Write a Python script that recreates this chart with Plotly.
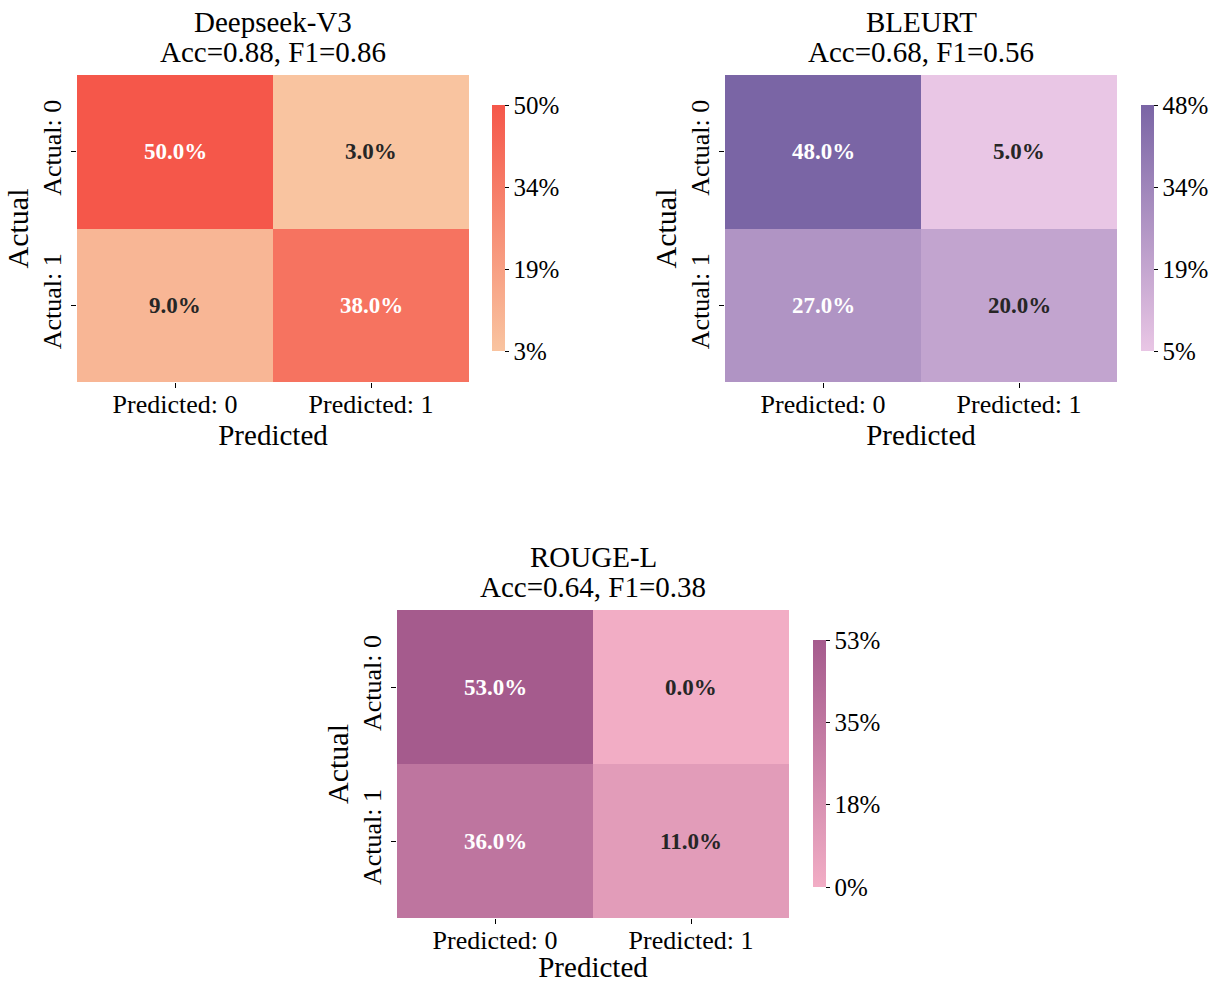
import plotly.graph_objects as go

W, H = 1214, 983

pred_labels = ["Predicted: 0", "Predicted: 1"]
actual_labels = ["Actual: 0", "Actual: 1"]

names = ["Deepseek-V3", "BLEURT", "ROUGE-L"]
acc = [0.88, 0.68, 0.64]
f1 = [0.86, 0.56, 0.38]

deepseek_vals = [[50.0, 3.0], [9.0, 38.0]]
bleurt_vals = [[48.0, 5.0], [27.0, 20.0]]
rouge_vals = [[53.0, 0.0], [36.0, 11.0]]
matrices = [deepseek_vals, bleurt_vals, rouge_vals]

low_colors = ["#F9C4A0", "#E9C6E5", "#F2ADC5"]
high_colors = ["#F5574A", "#7A65A5", "#A55B8D"]

# pixel boxes of heatmaps on the page: (left, top, right, bottom)
boxes = [(77, 75, 469, 382), (725, 75, 1117, 382), (397, 610, 789, 918)]
cbar_x = [492, 1141, 813]

FONT = "Liberation Serif"


def px(x):
    return x / W


def py(y):
    return 1 - y / H


def hex2rgb(h):
    h = h.lstrip("#")
    return tuple(int(h[i:i + 2], 16) for i in (0, 2, 4))


def lerp(c1, c2, t):
    a, b = hex2rgb(c1), hex2rgb(c2)
    return tuple(a[i] + (b[i] - a[i]) * t for i in range(3))


def lum(rgb):
    def lin(c):
        c = c / 255
        return c / 12.92 if c <= 0.03928 else ((c + 0.055) / 1.055) ** 2.4
    r, g, b = (lin(c) for c in rgb)
    return 0.2126 * r + 0.7152 * g + 0.0722 * b


fig = go.Figure()
annotations = []

for k in range(3):
    z = matrices[k]
    flat = [v for row in z for v in row]
    zmin, zmax = min(flat), max(flat)
    sfx = "" if k == 0 else str(k + 1)
    l, t, r, b = boxes[k]
    cb_top, cb_bot = t + 30, b - 31
    n = 4
    tickvals = [zmin + (zmax - zmin) * i / (n - 1) for i in range(n)]
    ticktext = [f"{round(v):d}%" for v in tickvals]

    fig.add_trace(go.Heatmap(
        z=z, x=pred_labels, y=actual_labels,
        coloraxis="coloraxis" + sfx,
        xaxis="x" + sfx, yaxis="y" + sfx,
        xgap=0, ygap=0, hoverinfo="skip",
    ))
    fig.layout["coloraxis" + sfx] = dict(
        colorscale=[[0, low_colors[k]], [1, high_colors[k]]],
        cmin=zmin, cmax=zmax,
        colorbar=dict(
            x=px(cbar_x[k]), xanchor="left", xpad=0,
            y=py((cb_top + cb_bot) / 2), yanchor="middle", ypad=0,
            len=cb_bot - cb_top, lenmode="pixels",
            thickness=13, thicknessmode="pixels",
            outlinewidth=0,
            tickvals=tickvals, ticktext=ticktext,
            ticks="outside", ticklen=4, tickwidth=1, tickcolor="#000",
            tickfont=dict(family=FONT, size=25, color="#000"),
        ),
    )
    fig.layout["xaxis" + sfx] = dict(
        domain=[px(l), px(r)], anchor="y" + sfx,
        ticks="outside", ticklen=5, tickwidth=1, tickcolor="#000",
        ticklabelstandoff=-6,
        tickfont=dict(family=FONT, size=26, color="#000"),
        title=dict(text="Predicted", font=dict(family=FONT, size=29, color="#000"), standoff=4),
        showgrid=False, zeroline=False, showline=False,
    )
    fig.layout["yaxis" + sfx] = dict(
        domain=[py(b), py(t)], anchor="x" + sfx,
        autorange="reversed",
        ticks="outside", ticklen=5, tickwidth=1, tickcolor="#000",
        tickangle=-90,
        tickfont=dict(family=FONT, size=26, color="#000"),
        title=dict(text="Actual", font=dict(family=FONT, size=30, color="#000"), standoff=0),
        showgrid=False, zeroline=False, showline=False,
    )

    for i in range(2):
        for j in range(2):
            v = z[i][j]
            tt = (v - zmin) / (zmax - zmin)
            c = lerp(low_colors[k], high_colors[k], tt)
            tc = "#262626" if lum(c) > 0.408 else "#FFFFFF"
            annotations.append(dict(
                x=pred_labels[j], y=actual_labels[i],
                xref="x" + sfx, yref="y" + sfx,
                text=f"<b>{v:.1f}%</b>", showarrow=False,
                font=dict(family=FONT, size=23, color=tc),
            ))

    cx = px((l + r) / 2)
    annotations.append(dict(
        x=cx, y=py(t - 53), xref="paper", yref="paper",
        text=names[k], showarrow=False, xanchor="center", yanchor="middle",
        font=dict(family=FONT, size=29, color="#000"),
    ))
    annotations.append(dict(
        x=cx, y=py(t - 23), xref="paper", yref="paper",
        text=f"Acc={acc[k]:.2f}, F1={f1[k]:.2f}", showarrow=False,
        xanchor="center", yanchor="middle",
        font=dict(family=FONT, size=29, color="#000"),
    ))

fig.update_layout(
    width=W, height=H,
    margin=dict(l=0, r=0, t=0, b=0),
    paper_bgcolor="white", plot_bgcolor="white",
    annotations=annotations,
    font=dict(family=FONT, color="#000"),
)

fig.write_html(
    "out.html",
    config={"displayModeBar": False},
    post_script="document.body.style.margin='0px';",
)
